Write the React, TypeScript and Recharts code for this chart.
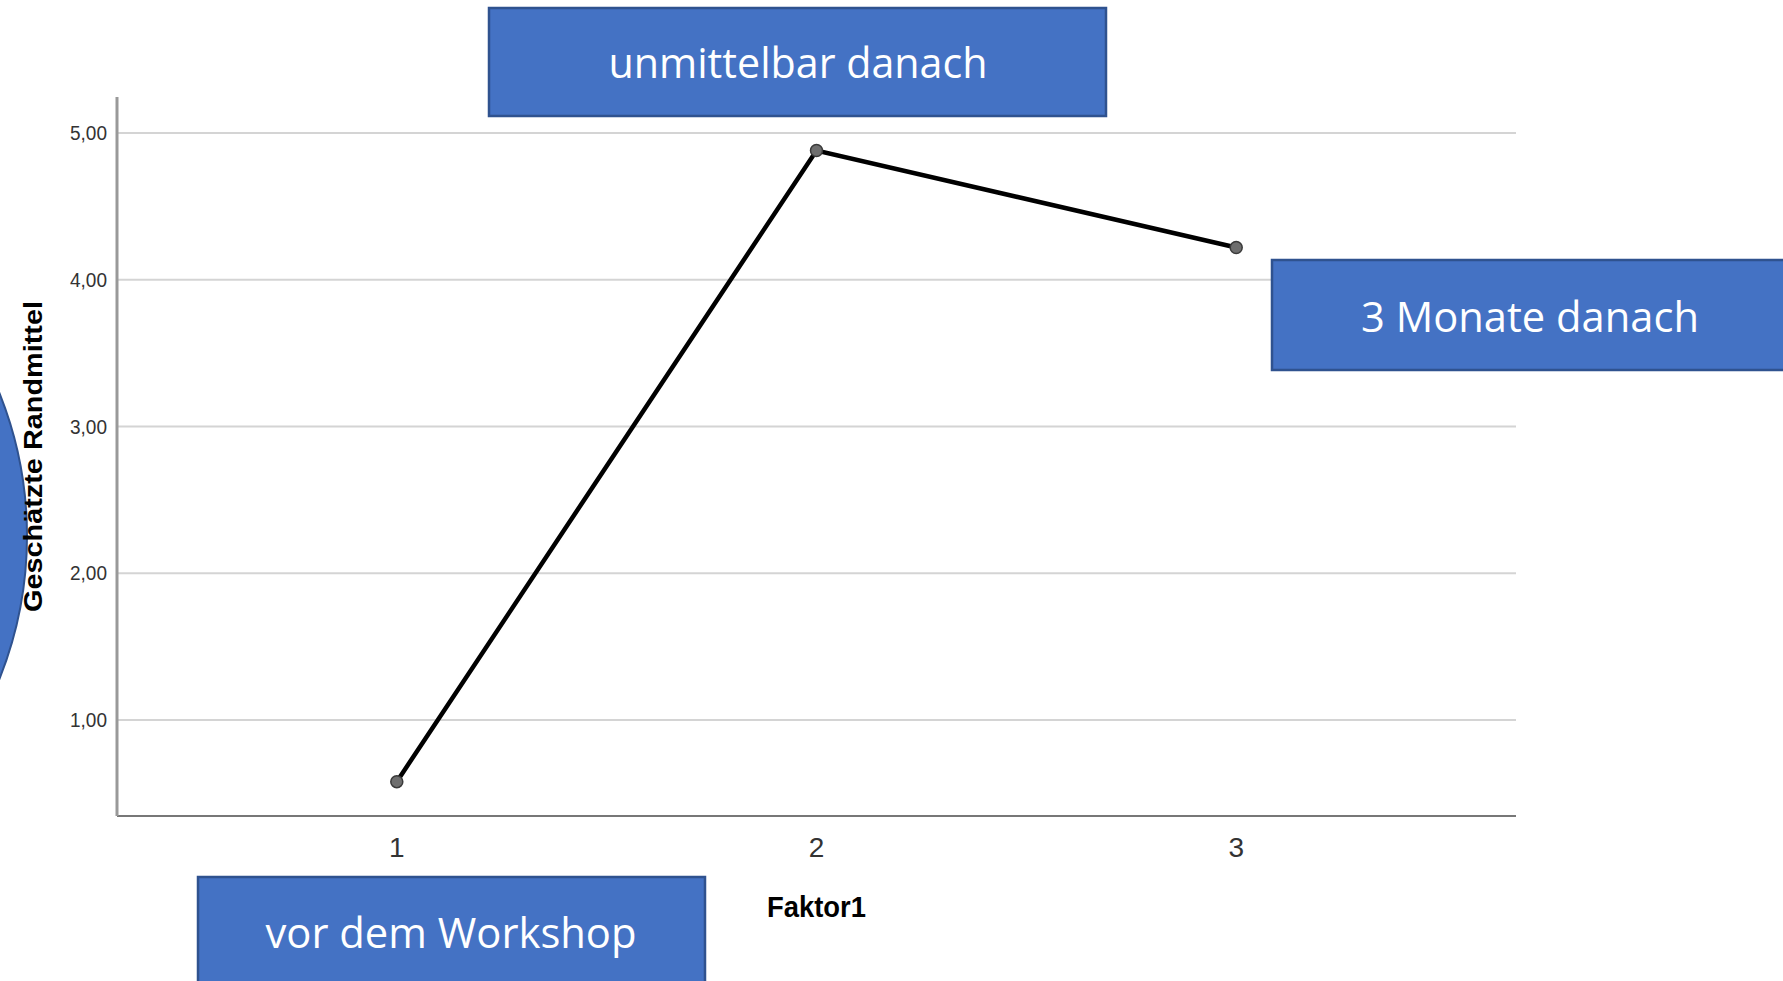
import React from "react";
import { LineChart, Line, XAxis, YAxis, CartesianGrid, Label } from "recharts";

// Data
const factorLevels = [1, 2, 3];
const estimatedMeans = [0.58, 4.88, 4.22];
const yTicks = [1, 2, 3, 4, 5];
const xTitle = "Faktor1";
const yTitle = "Geschätzte Randmittel";
const boxLabels = ["unmittelbar danach", "3 Monate danach", "vor dem Workshop"];

const data = factorLevels.map((x, i) => ({ x, mean: estimatedMeans[i] }));

const W = 1783;
const H = 981;
const BLUE = "#4472C4";
const BLUE_EDGE = "#2F528F";

const fmt = (v: number) => v.toFixed(2).replace(".", ",");

const YTick = (props: any) => {
  const { x, y, payload } = props;
  return (
    <text x={x} y={y} dy="0.355em" textAnchor="end" fontSize={20} fill="#333"
      fontFamily="Liberation Sans, Arial, sans-serif" textLength={37} lengthAdjust="spacingAndGlyphs">
      {fmt(payload.value)}
    </text>
  );
};

const XTick = (props: any) => {
  const { x, y, payload } = props;
  return (
    <text x={x} y={y} dy="0.71em" textAnchor="middle" fontSize={28} fill="#333"
      fontFamily="Liberation Sans, Arial, sans-serif">
      {String(payload.value)}
    </text>
  );
};

const YTitle = (props: any) => {
  const vb = props.viewBox || {};
  const cx = 42;
  const cy = vb.y + vb.height / 2;
  return (
    <text x={cx} y={cy} transform={`rotate(-90 ${cx} ${cy})`} textAnchor="middle"
      fontSize={26} fontWeight="bold" fill="#000" fontFamily="Liberation Sans, Arial, sans-serif"
      textLength={311} lengthAdjust="spacingAndGlyphs">
      {yTitle}
    </text>
  );
};

const XTitle = (props: any) => {
  const vb = props.viewBox || {};
  const cx = vb.x + vb.width / 2;
  const cy = vb.y + 101;
  return (
    <text x={cx} y={cy} textAnchor="middle" fontSize={30} fontWeight="bold" fill="#000"
      fontFamily="Liberation Sans, Arial, sans-serif" textLength={99} lengthAdjust="spacingAndGlyphs">
      {xTitle}
    </text>
  );
};

const boxText = { fontFamily: "Open Sans, Noto Sans, sans-serif", fontSize: 42, fill: "#fff" };

export default function App() {
  return (
    <div style={{ position: "absolute", left: 0, top: 0, width: W, height: H, overflow: "hidden", background: "#fff" }}>
      <svg width={W} height={H} style={{ position: "absolute", left: 0, top: 0 }}>
        <circle cx={-357} cy={536} r={384} fill={BLUE} stroke={BLUE_EDGE} strokeWidth={2} />
      </svg>
      <div style={{ position: "absolute", left: 0, top: 0 }}>
        <LineChart width={W} height={H} data={data} margin={{ top: 97, right: 267, bottom: 0, left: 0 }}>
          <CartesianGrid horizontal vertical={false} horizontalValues={yTicks} stroke="#d4d4d4" strokeWidth={2} />
          <XAxis type="number" dataKey="x" domain={[1 / 3, 11 / 3]} ticks={factorLevels} allowDataOverflow
            height={165} tickLine={false} tickSize={0} tickMargin={21} tick={<XTick />}
            axisLine={{ stroke: "#777", strokeWidth: 2 }}>
            <Label content={<XTitle />} />
          </XAxis>
          <YAxis type="number" domain={[0.346, 5.245]} ticks={yTicks} allowDataOverflow width={117}
            tickLine={false} tickSize={0} tickMargin={10} tick={<YTick />}
            axisLine={{ stroke: "#999", strokeWidth: 3 }}>
            <Label content={<YTitle />} />
          </YAxis>
          <Line type="linear" dataKey="mean" stroke="#000" strokeWidth={4.5} isAnimationActive={false}
            dot={{ r: 6, fill: "#6e6e6e", stroke: "#3a3a3a", strokeWidth: 1.5 }} />
        </LineChart>
      </div>
      <svg width={W} height={H} style={{ position: "absolute", left: 0, top: 0, pointerEvents: "none" }}>
        <rect x={489} y={8} width={617} height={108} fill={BLUE} stroke={BLUE_EDGE} strokeWidth={2.5} />
        <text x={798} y={78} textAnchor="middle" {...boxText} textLength={379} lengthAdjust="spacingAndGlyphs">{boxLabels[0]}</text>
        <rect x={1272} y={260} width={530} height={110} fill={BLUE} stroke={BLUE_EDGE} strokeWidth={2.5} />
        <text x={1530} y={332} textAnchor="middle" {...boxText} textLength={338} lengthAdjust="spacingAndGlyphs">{boxLabels[1]}</text>
        <rect x={198} y={877} width={507} height={120} fill={BLUE} stroke={BLUE_EDGE} strokeWidth={2.5} />
        <text x={451} y={948} textAnchor="middle" {...boxText} textLength={371} lengthAdjust="spacingAndGlyphs">{boxLabels[2]}</text>
      </svg>
    </div>
  );
}
